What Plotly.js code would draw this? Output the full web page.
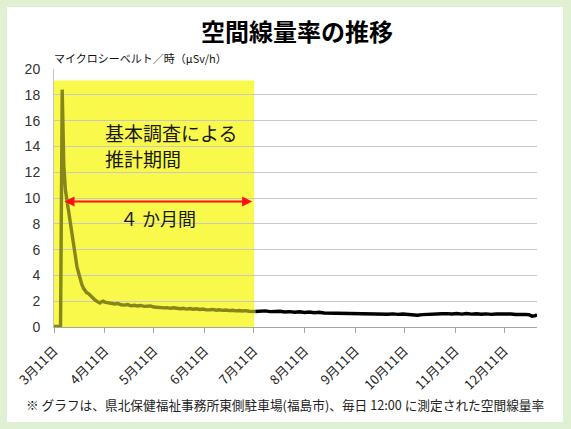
<!DOCTYPE html>
<html>
<head>
<meta charset="utf-8">
<script src="https://cdn.plot.ly/plotly-3.0.1.min.js"></script>
<style>
html,body{margin:0;padding:0;background:#e0f0d2;}
#chart{width:571px;height:429px;}
</style>
</head>
<body>
<div id="chart"></div>
<script>
// Daily 12:00 air dose rate (μSv/h)
var dates = [
'2011-03-11','2011-03-12','2011-03-13','2011-03-14','2011-03-15','2011-03-16','2011-03-17','2011-03-18','2011-03-19','2011-03-20',
'2011-03-21','2011-03-22','2011-03-23','2011-03-24','2011-03-25','2011-03-26','2011-03-27','2011-03-28','2011-03-29','2011-03-30',
'2011-03-31','2011-04-01','2011-04-02','2011-04-03','2011-04-04','2011-04-05','2011-04-06','2011-04-07','2011-04-08','2011-04-09',
'2011-04-10','2011-04-11','2011-04-13','2011-04-15','2011-04-17','2011-04-19','2011-04-21','2011-04-23','2011-04-25','2011-04-27',
'2011-04-29','2011-05-01','2011-05-03','2011-05-05','2011-05-07','2011-05-09','2011-05-11','2011-05-13','2011-05-15','2011-05-17',
'2011-05-19','2011-05-21','2011-05-23','2011-05-25','2011-05-27','2011-05-29','2011-05-31','2011-06-02','2011-06-04','2011-06-06',
'2011-06-08','2011-06-10','2011-06-12','2011-06-14','2011-06-16','2011-06-18','2011-06-20','2011-06-22','2011-06-24','2011-06-26',
'2011-06-28','2011-06-30','2011-07-02','2011-07-04','2011-07-06','2011-07-08','2011-07-10','2011-07-12','2011-07-15','2011-07-18',
'2011-07-21','2011-07-24','2011-07-27','2011-07-30','2011-08-02','2011-08-05','2011-08-08','2011-08-11','2011-08-14','2011-08-17',
'2011-08-20','2011-08-23','2011-08-26','2011-08-29','2011-09-01','2011-09-04','2011-09-07','2011-09-10','2011-09-13','2011-09-16',
'2011-09-19','2011-09-22','2011-09-25','2011-09-28','2011-10-01','2011-10-04','2011-10-07','2011-10-10','2011-10-13','2011-10-16',
'2011-10-19','2011-10-22','2011-10-25','2011-10-28','2011-10-31','2011-11-03','2011-11-06','2011-11-09','2011-11-12','2011-11-15',
'2011-11-18','2011-11-21','2011-11-24','2011-11-27','2011-11-30','2011-12-03','2011-12-06','2011-12-09','2011-12-12','2011-12-15',
'2011-12-18','2011-12-21','2011-12-24','2011-12-26','2011-12-28','2011-12-30','2011-12-31'
];
var doseRate = [
0.04,0.04,0.04,0.04,0.04,18.4,12.5,10.6,9.7,9.0,
7.9,7.1,6.3,5.5,4.7,4.2,3.7,3.3,3.0,2.8,
2.65,2.6,2.45,2.4,2.2,2.1,2.0,1.95,1.86,1.95,
2.0,1.93,1.86,1.84,1.78,1.82,1.72,1.7,1.74,1.64,
1.68,1.63,1.67,1.6,1.6,1.63,1.55,1.52,1.55,1.48,
1.5,1.45,1.49,1.43,1.42,1.45,1.39,1.43,1.38,1.41,
1.36,1.39,1.33,1.34,1.36,1.3,1.33,1.29,1.32,1.27,
1.3,1.25,1.28,1.24,1.27,1.22,1.23,1.2,1.23,1.25,
1.19,1.2,1.22,1.16,1.19,1.14,1.18,1.13,1.16,1.11,
1.14,1.09,1.08,1.1,1.05,1.08,1.03,1.06,1.02,1.05,
1.01,1.04,0.99,1.02,0.99,1.02,0.98,1.01,0.97,0.98,
0.91,0.96,0.99,1.02,0.99,1.03,1.04,1.01,1.05,1.0,
1.04,1.0,1.03,0.99,1.02,0.98,1.01,1.02,0.98,1.01,
0.97,1.0,0.98,0.95,0.84,0.88,0.94
];
var tickDates = ['2011-03-11','2011-04-11','2011-05-11','2011-06-11','2011-07-11','2011-08-11','2011-09-11','2011-10-11','2011-11-11','2011-12-11'];
var tickLabels = ['3月11日','4月11日','5月11日','6月11日','7月11日','8月11日','9月11日','10月11日','11月11日','12月11日'];
var periodStart = '2011-03-11';
var periodEnd = '2011-07-11 06:00';
var periodTop = 19.1;
var arrowStart = '2011-03-16 12:00';
var arrowEnd = '2011-07-10';
var arrowLevel = 9.73;

var JP = '"Noto Sans CJK JP", "Noto Sans", sans-serif';

// split the series at the end of the highlighted period (inside: olive, after: black)
var cut = dates.filter(function (d) { return d <= '2011-07-12'; }).length;
var traceIn = {
  x: dates.slice(0, cut), y: doseRate.slice(0, cut), type: 'scatter', mode: 'lines',
  line: {color: '#86861a', width: 3.4}, hoverinfo: 'skip'
};
var traceOut = {
  x: dates.slice(cut - 1), y: doseRate.slice(cut - 1), type: 'scatter', mode: 'lines',
  line: {color: '#000000', width: 3.4}, hoverinfo: 'skip'
};

var layout = {
  width: 571, height: 429,
  margin: {l: 54, r: 34, t: 69, b: 102},
  paper_bgcolor: '#e0f0d2',
  plot_bgcolor: '#ffffff',
  showlegend: false,
  font: {family: JP, color: '#222222'},
  title: {
    text: '空間線量率の推移',
    font: {family: JP, size: 24, color: '#000000', weight: 'bold'},
    x: 0.52, xref: 'container', xanchor: 'center',
    y: 0.925, yref: 'container', yanchor: 'middle'
  },
  xaxis: {
    type: 'date',
    range: ['2011-03-11', '2011-12-31'],
    tickmode: 'array', tickvals: tickDates, ticktext: tickLabels,
    tickangle: -45,
    ticks: 'outside', ticklen: 5, tickcolor: '#a6a6a6', tickwidth: 1,
    ticklabelstandoff: 5,
    showgrid: false, zeroline: false,
    showline: true, linecolor: '#a6a6a6', linewidth: 1,
    tickfont: {family: JP, size: 13, color: '#222222'},
    fixedrange: true
  },
  yaxis: {
    range: [0, 20], dtick: 2, tick0: 0,
    showgrid: true, gridcolor: '#c8c8c8', gridwidth: 1,
    zeroline: false,
    showline: true, linecolor: '#c6c6c6', linewidth: 1,
    ticks: '', ticklabelstandoff: 10,
    tickfont: {family: '"Liberation Sans", Arial, sans-serif', size: 14, color: '#333333'},
    fixedrange: true
  },
  shapes: [
    {type: 'rect', xref: 'paper', yref: 'paper', x0: -0.0973, x1: 1.0538, y0: -0.368, y1: 1.24,
     fillcolor: '#ffffff', line: {width: 0}, layer: 'below'},
    {type: 'rect', xref: 'x', yref: 'y', x0: periodStart, x1: periodEnd, y0: 0, y1: periodTop,
     fillcolor: '#f9f94c', line: {width: 0}, layer: 'below'}
  ],
  annotations: [
    {xref: 'paper', yref: 'paper', x: -0.004, y: 1.0426, xanchor: 'left', yanchor: 'middle',
     text: 'マイクロシーベルト／時（μSv/h）', showarrow: false,
     font: {family: JP, size: 11, color: '#111111'}},
    {xref: 'x', yref: 'y', x: '2011-04-10', y: 15.04, xanchor: 'left', yanchor: 'middle',
     text: '基本調査による', showarrow: false, font: {family: JP, size: 19, color: '#1a1a1a'}},
    {xref: 'x', yref: 'y', x: '2011-04-10', y: 13.1, xanchor: 'left', yanchor: 'middle',
     text: '推計期間', showarrow: false, font: {family: JP, size: 19, color: '#1a1a1a'}},
    {xref: 'x', yref: 'y', x: '2011-05-13 12:00', y: 8.47, xanchor: 'center', yanchor: 'middle',
     text: '４ か月間', showarrow: false, font: {family: JP, size: 18, color: '#1a1a1a'}},
    {xref: 'x', yref: 'y', x: arrowEnd, y: arrowLevel, axref: 'x', ayref: 'y', ax: arrowStart, ay: arrowLevel,
     text: '', showarrow: true, arrowhead: 2, arrowside: 'end+start', arrowsize: 1, arrowwidth: 2,
     arrowcolor: '#ff1010', standoff: 0, startstandoff: 0},
    {xref: 'paper', yref: 'paper', x: -0.0621, y: -0.302, xanchor: 'left', yanchor: 'middle',
     text: '※ グラフは、県北保健福祉事務所東側駐車場(福島市)、毎日 12:00 に測定された空間線量率',
     showarrow: false, font: {family: JP, size: 12.7, color: '#222222'}}
  ]
};

Plotly.newPlot('chart', [traceIn, traceOut], layout, {displayModeBar: false, staticPlot: true});
</script>
</body>
</html>
